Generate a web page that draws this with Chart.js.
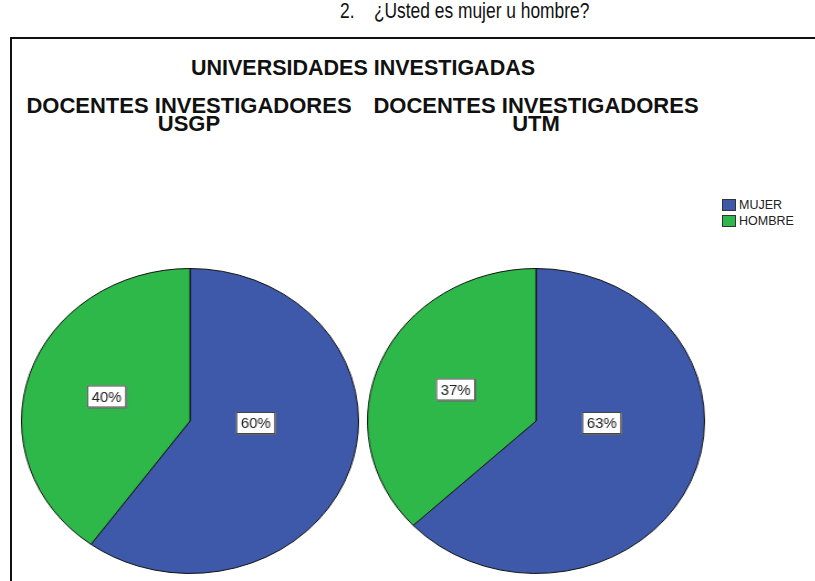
<!DOCTYPE html>
<html>
<head>
<meta charset="utf-8">
<script src="https://cdn.jsdelivr.net/npm/chart.js@4"></script>
<style>
  body { margin: 0; width: 815px; height: 581px; overflow: hidden; background: #fff; position: relative; font-family: "Liberation Sans", Arial, sans-serif; }
  .abs { position: absolute; }
  #question { left: 265px; width: 400px; top: -2px; text-align: center; font-size: 22px; color: #111; white-space: pre; }
  #question span { display: inline-block; transform: scaleX(0.79); }
  #frame { left: 10px; top: 37px; width: 820px; height: 600px; border-top: 2px solid #111; border-left: 2px solid #111; }
  .head { font-weight: bold; color: #111; text-align: center; white-space: nowrap; }
  #main { left: 163px; width: 400px; top: 56px; font-size: 21.5px; }
  .sub { width: 360px; top: 97px; font-size: 22px; line-height: 18px; }
  #subA { left: 9px; }
  #subB { left: 356px; }
  .pie { width: 320px; height: 320px; top: 261px; transform: scaleX(1.105); transform-origin: 50% 50%; }
  #pieA { left: 30px; }
  #pieB { left: 376px; }
  #legend { left: 722px; top: 199px; font-size: 12.5px; color: #222; }
  #legend div { height: 16px; line-height: 13px; white-space: nowrap; }
  #legend span { display: inline-block; width: 12px; height: 10px; border: 1px solid #333; vertical-align: top; margin-right: 3px; }
</style>
</head>
<body>
<div id="question" class="abs"><span>2.    ¿Usted es mujer u hombre?</span></div>
<div id="frame" class="abs"></div>
<div id="main" class="abs head">UNIVERSIDADES INVESTIGADAS</div>
<div id="subA" class="abs head sub">DOCENTES INVESTIGADORES<br>USGP</div>
<div id="subB" class="abs head sub">DOCENTES INVESTIGADORES<br>UTM</div>
<canvas id="pieA" class="abs pie" width="320" height="320"></canvas>
<canvas id="pieB" class="abs pie" width="320" height="320"></canvas>
<div id="legend" class="abs"></div>
<script>
// data
const categories = ["MUJER", "HOMBRE"];
const usgpValues = [60, 40];
const utmValues = [63, 37];

const sliceColors = ["#3E58AA", "#2EB84A"];
const STRETCH = 1.105; // pies are drawn a bit wider than tall

// legend
var legend = document.getElementById("legend");
categories.forEach(function(name, i) {
  var row = document.createElement("div");
  var box = document.createElement("span");
  box.style.background = sliceColors[i];
  row.appendChild(box);
  row.appendChild(document.createTextNode(name));
  legend.appendChild(row);
});

// boxed percentage labels, like SPSS does them
var boxLabels = {
  id: "boxLabels",
  afterDatasetsDraw: function(chart) {
    var ctx = chart.ctx;
    var meta = chart.getDatasetMeta(0);
    var values = chart.data.datasets[0].data;
    var total = values.reduce(function(a, b) { return a + b; }, 0);
    meta.data.forEach(function(arc, i) {
      var p = arc.getProps(["x", "y", "startAngle", "endAngle", "outerRadius"], true);
      var theta = p.endAngle - p.startAngle;
      var mid = (p.startAngle + p.endAngle) / 2;
      var x, y;
      if (theta > Math.PI) {
        // big slice: label sits on the horizontal through the centre
        x = p.x + Math.sign(Math.cos(mid)) * 0.39 * p.outerRadius;
        y = p.y + 2;
      } else {
        x = p.x + Math.cos(mid) * 0.52 * p.outerRadius;
        y = p.y + Math.sin(mid) * 0.52 * p.outerRadius;
      }
      var text = Math.round(values[i] / total * 100) + "%";
      ctx.save();
      ctx.translate(x, y);
      ctx.scale(1 / STRETCH, 1);
      ctx.font = "15px 'Liberation Sans', Arial, sans-serif";
      var w = ctx.measureText(text).width + 9;
      var h = 22;
      ctx.fillStyle = "#666";
      ctx.fillRect(-w / 2 + 1, -h / 2 + 1, w, h);
      ctx.fillStyle = "#fff";
      ctx.fillRect(-w / 2, -h / 2, w, h);
      ctx.strokeStyle = "#444";
      ctx.lineWidth = 1;
      ctx.strokeRect(-w / 2 + 0.5, -h / 2 + 0.5, w - 1, h - 1);
      ctx.fillStyle = "#222";
      ctx.textAlign = "center";
      ctx.textBaseline = "middle";
      ctx.fillText(text, 0, 1);
      ctx.restore();
    });
  }
};

function makePie(id, values) {
  return new Chart(document.getElementById(id).getContext("2d"), {
    type: "pie",
    data: {
      labels: categories,
      datasets: [{
        data: values,
        backgroundColor: sliceColors,
        borderColor: "#111",
        borderWidth: 1
      }]
    },
    options: {
      responsive: false,
      animation: false,
      layout: { padding: 7 },
      plugins: {
        legend: { display: false },
        tooltip: { enabled: false }
      }
    },
    plugins: [boxLabels]
  });
}

makePie("pieA", usgpValues);
makePie("pieB", utmValues);
</script>
</body>
</html>
